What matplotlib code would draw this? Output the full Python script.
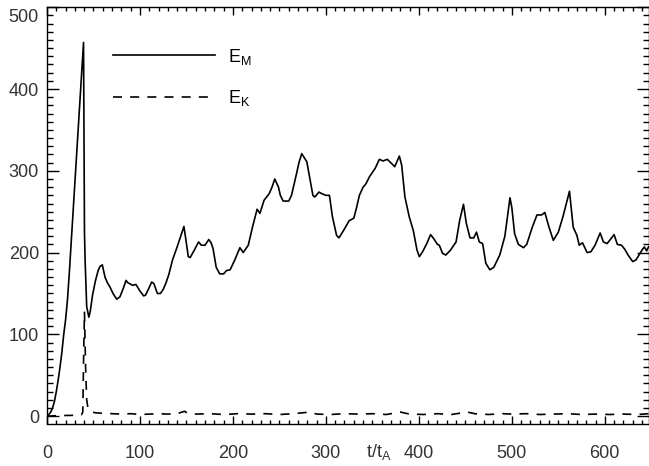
import numpy as np
import matplotlib
matplotlib.use('Agg')
import matplotlib.pyplot as plt
from matplotlib.ticker import MultipleLocator

plt.rcParams['font.family'] = ['Liberation Sans', 'DejaVu Sans']
plt.rcParams['mathtext.fontset'] = 'custom'
plt.rcParams['mathtext.rm'] = 'Liberation Sans'
plt.rcParams['mathtext.it'] = 'Liberation Sans'

# magnetic energy E_M
t_em = [0, 2, 4, 6, 8, 10, 12, 14, 16, 18, 20, 22, 24, 26, 28, 30, 32, 34, 36, 38,
        39.3, 40.3, 41, 42.7, 45, 46.5, 49, 52, 55, 57, 59.5, 62.4, 65, 67.7, 71, 75,
        78.5, 82, 85, 87, 89, 92, 95.7, 100, 104, 106, 109, 112.6, 115, 118.7, 122,
        125, 128, 131, 135, 140, 145, 147.3, 149.5, 152, 154, 158, 163, 166, 170, 174,
        176.5, 178.6, 180.5, 182, 185.8, 190, 193, 197, 202, 207.5, 211, 216.5, 221,
        226, 229, 233.5, 239, 242, 245, 249, 251, 254, 260, 263, 268.5, 271, 274,
        279.5, 283, 286, 288, 292.6, 295.6, 300, 303.8, 307, 311.5, 314, 319, 325,
        330, 333, 336, 340, 343, 347, 353, 357.5, 361.5, 366, 370.6, 374, 379, 381.5,
        385, 389.6, 394, 398, 400.5, 404, 408.5, 412.6, 416, 420, 422, 425.5, 429,
        434, 440, 444, 448, 451, 455, 459, 462, 465, 468.6, 472, 476.3, 480.6, 487,
        492.5, 498, 500, 503, 507, 512.5, 516, 522, 527, 532, 535.5, 540, 544.6, 550,
        555, 562, 566, 570, 572.5, 576, 581, 585, 589.5, 595, 598.5, 602.5, 610,
        613.5, 618, 621.5, 625, 630, 633.5, 640, 642.5, 645, 647]
e_m = [0, 2, 5, 10, 18, 30, 44, 60, 78, 100, 118, 142, 175, 212, 250, 288, 325, 362, 398, 435,
       457, 225, 190, 134, 121, 128, 148, 165, 178, 183, 185, 170, 163, 158, 150, 143,
       146, 156, 166, 163, 162, 160, 161, 153, 147, 148, 155, 164, 162, 150, 150,
       155, 163, 173, 191, 207, 224, 232, 215, 195, 194, 202, 213, 209, 209, 216,
       212, 205, 192, 182, 174, 174, 178, 179, 191, 206, 200, 209, 231,
       253, 248, 264, 272, 280, 290, 280, 270, 263, 263, 270, 297, 310, 321,
       311, 289, 270, 268, 274, 272, 270, 270, 244, 221, 218, 227, 239,
       242, 255, 270, 280, 284, 293, 303, 314, 312, 314, 309, 305, 318, 307,
       268, 244, 227, 203, 195, 201, 211, 222, 217, 210, 209, 199, 197,
       203, 213, 240, 259, 236, 218, 218, 225, 213, 211, 187, 179, 182, 197,
       220, 267, 255, 223, 210, 206, 210, 231, 246, 246, 249, 231, 215, 225,
       244, 275, 231, 221, 209, 212, 200, 201, 209, 224, 213, 211, 222,
       210, 209, 204, 197, 189, 191, 203, 207, 202, 207]

# kinetic energy E_K
t_ek = [0, 10, 20, 30, 37, 38.5, 39.5, 40.3, 41.5, 42.7, 44, 45.5, 48, 53, 60, 70, 80,
        90, 100, 110, 120, 130, 140, 148, 152, 160, 175, 190, 205, 220, 235, 250, 265,
        283, 290, 305, 320, 335, 350, 365, 380, 390, 405, 420, 435, 452, 460, 475, 490,
        500, 515, 530, 545, 560, 575, 590, 605, 620, 635, 647]
e_k = [0, 0.5, 0.8, 1, 1.5, 5, 80, 127, 60, 20, 10, 7, 5, 4, 3.5, 3, 2.5,
       3, 2, 2.5, 3, 2.5, 3, 6, 3, 2.5, 3, 2, 3, 2.5, 3, 2, 3,
       5, 2.5, 2, 3, 2.5, 3, 2, 5, 2.5, 2, 3, 2, 5, 3, 2, 3,
       2.5, 3, 2, 2.5, 3, 2, 2.5, 2, 2.5, 2, 3]

fig = plt.figure(figsize=(6.49, 4.66), dpi=100)
ax = fig.add_axes([47 / 649, 1 - 423.5 / 466, 601.5 / 649, 416.25 / 466])

ax.plot(t_em, e_m, color='black', lw=1.2, label=r'$\mathrm{E}_\mathrm{M}$')
ax.plot(t_ek, e_k, color='black', lw=1.2, ls=(0, (5.4, 4.9)), label=r'$\mathrm{E}_\mathrm{K}$')

ax.set_xlim(0, 647)
ax.set_ylim(-9, 500)
ax.xaxis.set_major_locator(MultipleLocator(100))
ax.xaxis.set_minor_locator(MultipleLocator(10))
ax.yaxis.set_major_locator(MultipleLocator(100))
ax.yaxis.set_minor_locator(MultipleLocator(10))
ax.tick_params(which='both', direction='in', top=True, right=True, width=1,
               labelsize=13, labelcolor='#333333')
ax.tick_params(axis='x', which='major', length=6, pad=15.5)
ax.tick_params(axis='x', which='minor', length=3)
ax.tick_params(axis='y', which='major', length=8.6, pad=5.8)
ax.tick_params(axis='y', which='minor', length=4.3)
for s in ax.spines.values():
    s.set_linewidth(1)

# top y label sits a bit below its tick in the original
ax.set_yticks([0, 100, 200, 300, 400, 500], ['0', '100', '200', '300', '400', ''])
ax.annotate('500', xy=(0, 500), xycoords=('axes fraction', 'data'),
            xytext=(-8, -10), textcoords='offset pixels', ha='right', va='center',
            fontsize=13, color='#333333')

fig.text(365.7 / 649, 1 - 457 / 466, r't/t$_\mathrm{A}$', fontsize=13, color='#333333',
         ha='left', va='baseline')

ax.legend(loc='upper left', bbox_to_anchor=(0.109, 0.905), frameon=False, fontsize=13,
          handlelength=5.67, handletextpad=0.7, labelspacing=1.2, borderpad=0,
          borderaxespad=0)

fig.savefig('out.png', dpi=100)
